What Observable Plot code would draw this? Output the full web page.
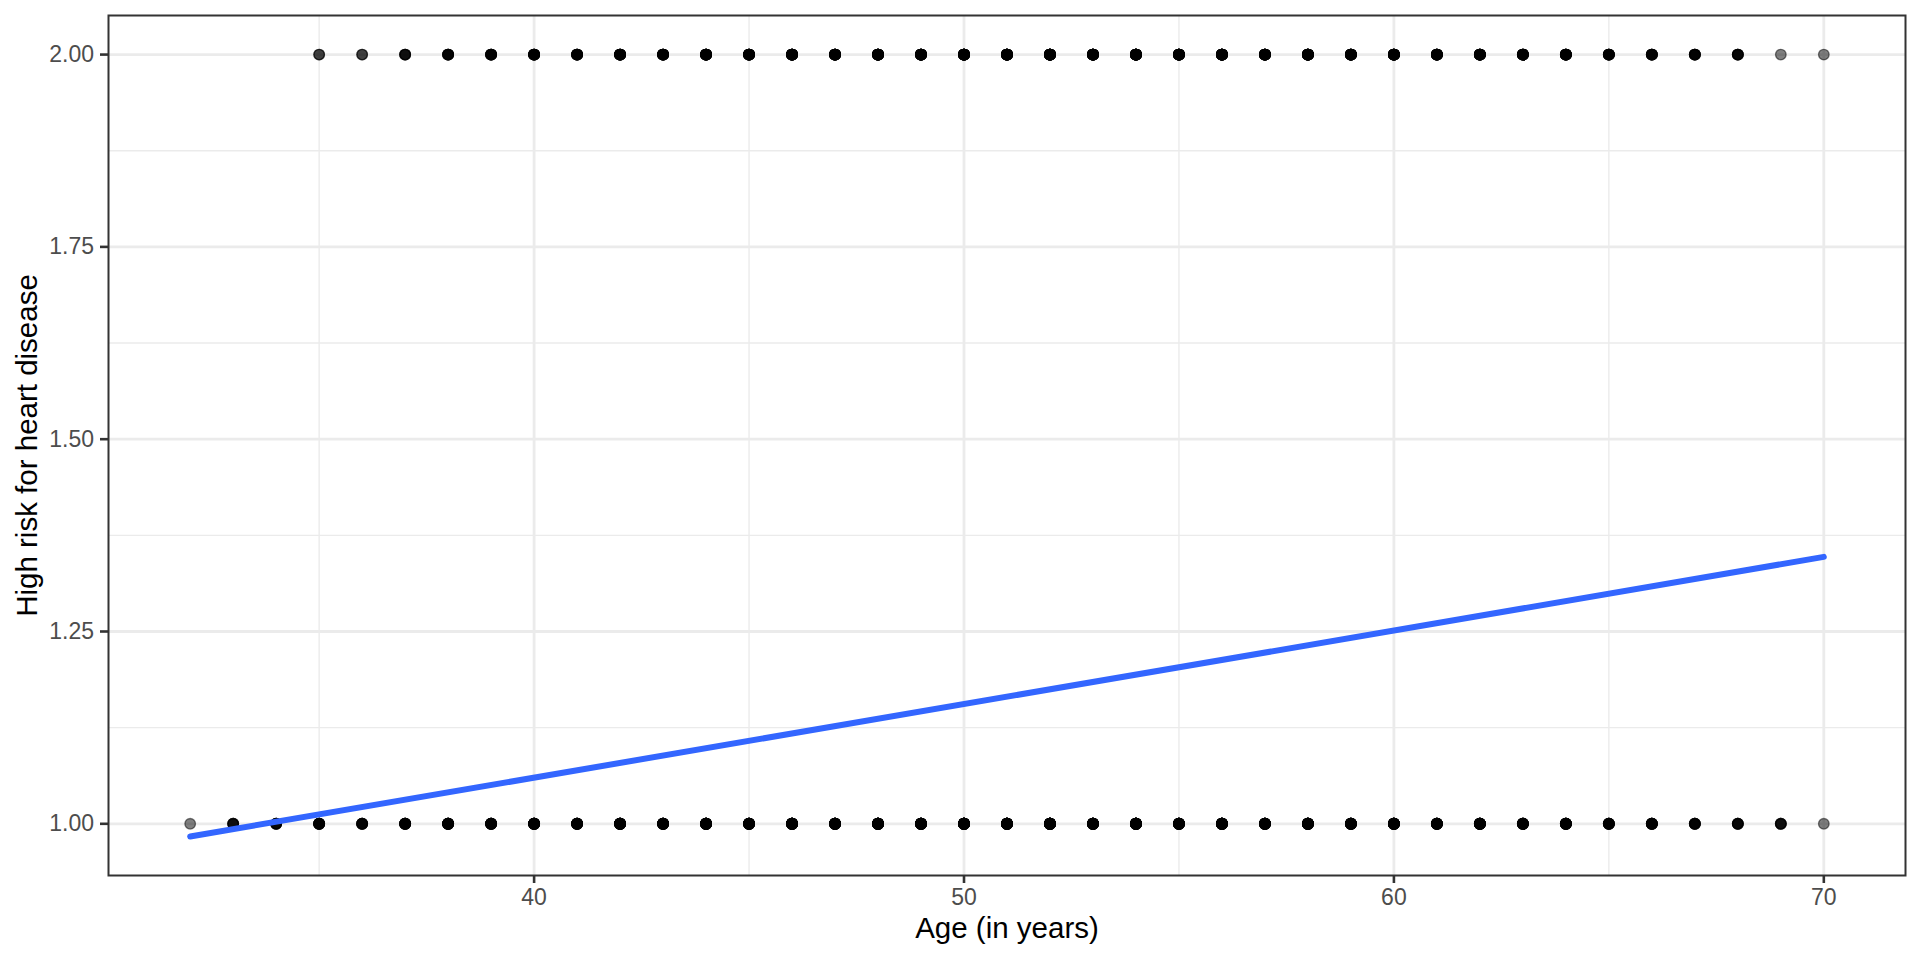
<!DOCTYPE html>
<html><head><meta charset="utf-8">
<script src="https://cdn.jsdelivr.net/npm/d3@7"></script>
<script src="https://cdn.jsdelivr.net/npm/@observablehq/plot@0.6"></script>
<style>
html,body{margin:0;padding:0;background:#fff}
svg{font-family:"Liberation Sans",Arial,Helvetica,sans-serif}
</style>
</head><body><div id="chart"></div>
<script>
// Ages (years) of the low-risk group (risk = 1) and how many people share each age
const lowAges   = [32,33,34,35,36,37,38,39,40,41,42,43,44,45,46,47,48,49,50,51,52,53,54,55,56,57,58,59,60,61,62,63,64,65,66,67,68,69,70];
const lowCounts = [1,4,5,8,6,9,12,10,14,11,16,13,18,15,20,17,22,19,24,21,25,18,23,16,20,15,19,14,17,12,15,10,12,8,9,6,5,4,1];
// High-risk group (risk = 2)
const highAges   = [35,36,37,38,39,40,41,42,43,44,45,46,47,48,49,50,51,52,53,54,55,56,57,58,59,60,61,62,63,64,65,66,67,68,69,70];
const highCounts = [2,2,4,6,7,9,8,11,10,13,12,15,14,17,16,19,18,20,17,19,16,18,15,17,14,16,12,13,10,11,8,7,6,5,1,1];
// Linear fit (geom_smooth, method = "lm") end points
const fitAges = [32, 70];
const fitRisk = [0.9835, 1.347];
// Ticks
const xMajor = [40, 50, 60, 70];
const xMinor = [35, 45, 55, 65];
const yMajor = [1, 1.25, 1.5, 1.75, 2];
const yMinor = [1.125, 1.375, 1.625, 1.875];
const yTickLabels = ["1.00", "1.25", "1.50", "1.75", "2.00"];
const xTitle = "Age (in years)";
const yTitle = "High risk for heart disease";

const points = [];
lowAges.forEach((a, i) => { for (let k = 0; k < lowCounts[i]; k++) points.push({age: a, risk: 1}); });
highAges.forEach((a, i) => { for (let k = 0; k < highCounts[i]; k++) points.push({age: a, risk: 2}); });
const fit = fitAges.map((a, i) => ({age: a, risk: fitRisk[i]}));

const chart = Plot.plot({
  width: 1920,
  height: 960,
  marginLeft: 108,
  marginRight: 15,
  marginTop: 15,
  marginBottom: 85,
  style: {background: "#fff", fontFamily: "Liberation Sans, Arial, sans-serif"},
  x: {domain: [30.1, 71.9]},
  y: {domain: [0.9328, 2.0508]},
  marks: [
    Plot.ruleX(xMinor, {stroke: "#ebebeb", strokeWidth: 1.4}),
    Plot.ruleY(yMinor, {stroke: "#ebebeb", strokeWidth: 1.4}),
    Plot.ruleX(xMajor, {stroke: "#ebebeb", strokeWidth: 2.8}),
    Plot.ruleY(yMajor, {stroke: "#ebebeb", strokeWidth: 2.8}),
    Plot.dot(points, {x: "age", y: "risk", r: 5.3, fill: "#000", fillOpacity: 0.5, stroke: "#000", strokeOpacity: 0.5, strokeWidth: 1.3}),
    Plot.line(fit, {x: "age", y: "risk", stroke: "#3366FF", strokeWidth: 6}),
    Plot.axisX({ticks: xMajor, tickSize: 8, tickPadding: 5.5, fontSize: 23, stroke: "#333", strokeWidth: 2.6, fill: "#4d4d4d", label: null}),
    Plot.axisY({ticks: yMajor, tickSize: 8, tickPadding: 6.5, fontSize: 23, stroke: "#333", strokeWidth: 2.6, fill: "#4d4d4d", label: null, tickFormat: (d) => yTickLabels[yMajor.indexOf(d)]}),
    Plot.text([xTitle], {frameAnchor: "bottom", textAnchor: "middle", dy: 62, fontSize: 29.5, fill: "#000", text: d => d}),
    Plot.text([yTitle], {frameAnchor: "left", textAnchor: "middle", dx: -81, rotate: -90, fontSize: 29.5, fill: "#000", text: d => d}),
    Plot.frame({stroke: "#333", strokeWidth: 2})
  ]
});
document.getElementById("chart").appendChild(chart);
</script>
</body></html>
